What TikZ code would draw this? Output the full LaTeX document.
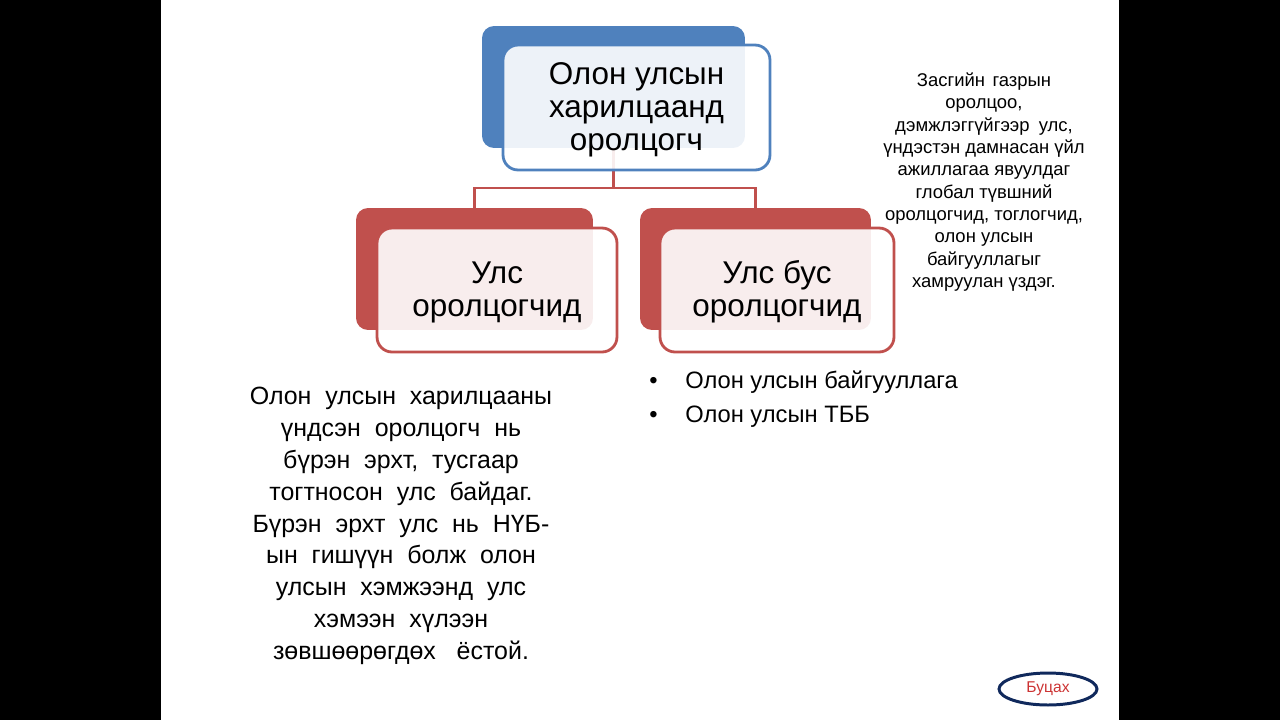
\documentclass[tikz,border=0pt]{standalone}
\usepackage{fontspec}
\setmainfont{Liberation Sans}
\usetikzlibrary{shapes,positioning}
\definecolor{bluefill}{HTML}{4F81BD}
\definecolor{redfill}{HTML}{C0504D}
\definecolor{navyline}{HTML}{10295C}
\definecolor{backred}{HTML}{CC3333}
\tikzset{backbox/.style={
            rounded corners=0.24cm,
            minimum height=2.44cm
        },
        frontbox/.style={
            draw,
            fill=white,
            fill opacity=0.9,
            line width=1.6pt,
            rounded corners=0.3cm
        },
        boxtext/.style={
            align=center,
            yshift=-0.04cm,
            font=\fontsize{17.9}{18.8}\selectfont
        },
        bodytext/.style={
            align=center,
            font=\fontsize{14.2}{18.1}\selectfont
        },
        sidetext/.style={
            align=center,
            font=\fontsize{10.5}{12.7}\selectfont
        },
        listtext/.style={
            anchor=base west,
            inner sep=0pt,
            font=\fontsize{13.5}{16}\selectfont
        },
        link/.style={
            redfill,
            line width=1.3pt
        }
    }

\begin{document}
\begin{tikzpicture}[x=0.02cm,y=-0.02cm]
        \useasboundingbox (0,0) rectangle (1280,720);
        \fill[black] (0,0) rectangle (161,720);
        \fill[black] (1119,0) rectangle (1280,720);
        % back boxes
        \node[backbox,fill=bluefill,minimum width=5.26cm] at (613.5,87) (topback) {};
        \node[backbox,fill=redfill,minimum width=4.74cm] at (474.5,269) (stateback) {};
        \node[backbox,fill=redfill,minimum width=4.62cm] at (755.5,269) (nonstateback) {};
        % connectors
        \coordinate (fork) at (613.5,188);
        \draw[link] (topback.south) -- (fork);
        \draw[link] (fork) -| (stateback.north);
        \draw[link] (fork) -| (nonstateback.north);
        % front boxes
        \node[frontbox,draw=bluefill,minimum width=5.34cm,minimum height=2.5cm] at (636.5,107.5) (top) {};
        \node[frontbox,draw=redfill,minimum width=4.8cm,minimum height=2.48cm] at (497,290) (state) {};
        \node[frontbox,draw=redfill,minimum width=4.68cm,minimum height=2.48cm] at (777,290) (nonstate) {};
        \node[boxtext] at (top) (toptext) {Олон улсын\\харилцаанд\\оролцогч};
        \node[boxtext] at (state) (statetext) {Улс\\оролцогчид};
        \node[boxtext] at (nonstate) (nonstatetext) {Улс бус\\оролцогчид};
        % texts
        \node[sidetext] at (984,182) (side) {Засгийн\hspace{.4em}газрын\\оролцоо,\\дэмжлэггүйгээр\hspace{.5em}улс,\\үндэстэн дамнасан үйл\\ажиллагаа явуулдаг\\глобал түвшний\\оролцогчид, тоглогчид,\\олон улсын\\байгууллагыг\\хамруулан үздэг.};
        \node[bodytext] at (401,526) (body) {Олон\ \ улсын\ \ харилцааны\\үндсэн\ \ оролцогч\ \ нь\\бүрэн\ \ эрхт,\ \ тусгаар\\тогтносон\ \ улс\ \ байдаг.\\Бүрэн\ \ эрхт\ \ улс\ \ нь\ \ НҮБ-\\ын\ \ гишүүн\ \ болж\ \ олон\\улсын\ \ хэмжээнд\ \ улс\\хэмээн\ \ хүлээн\\зөвшөөрөгдөх\ \ \ ёстой.};
        \node[listtext] at (649,388) (bullet1) {•};
        \node[listtext] at (685,388) (org1) {Олон улсын байгууллага};
        \node[listtext] at (649,422) (bullet2) {•};
        \node[listtext] at (685,422) (org2) {Олон улсын ТББ};
        % back button
        \node[ellipse,draw=navyline,line width=1.7pt,text=backred,minimum width=1.96cm,minimum height=0.64cm,inner sep=0pt,font=\fontsize{8.9}{10}\selectfont] at (1048,689) (back) {Буцах};
    \end{tikzpicture}
\end{document}
